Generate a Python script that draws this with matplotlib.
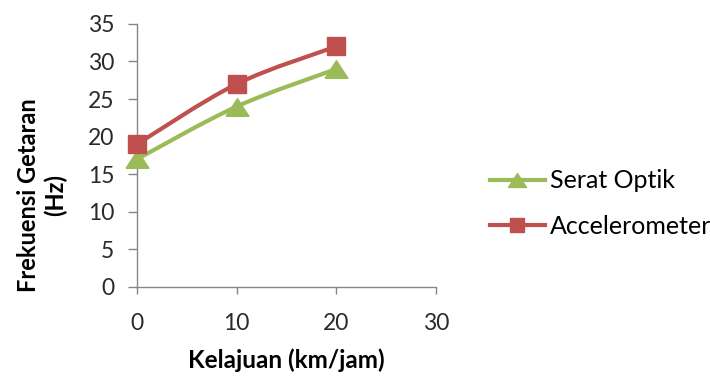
import numpy as np
import matplotlib
matplotlib.use("Agg")
import matplotlib.pyplot as plt
from matplotlib.path import Path
from matplotlib.patches import PathPatch
from matplotlib.lines import Line2D

plt.rcParams["font.family"] = ["Lato", "DejaVu Sans"]

# Data
kelajuan = [0, 10, 20]
serat_optik = [17, 24, 29]
accelerometer = [19, 27, 32]

x_ticks = [0, 10, 20, 30]
y_ticks = [0, 5, 10, 15, 20, 25, 30, 35]

green = "#9BBB59"
red = "#C0504D"
axis_grey = "#868686"

# wide, flat triangle marker
tri = [(-1.3, -1.0), (1.3, -1.0), (0.0, 1.0), (-1.3, -1.0)]


def smooth_path(xs, ys):
    # Catmull-Rom style bezier through the points (like a smoothed spreadsheet line)
    pts = np.column_stack([xs, ys]).astype(float)
    n = len(pts)
    verts = [pts[0]]
    codes = [Path.MOVETO]
    for i in range(n - 1):
        p0 = pts[max(i - 1, 0)]
        p1 = pts[i]
        p2 = pts[i + 1]
        p3 = pts[min(i + 2, n - 1)]
        c1 = p1 + (p2 - p0) / 6.0
        c2 = p2 - (p3 - p1) / 6.0
        verts += [c1, c2, p2]
        codes += [Path.CURVE4] * 3
    return Path(verts, codes)


fig = plt.figure(figsize=(7.1, 3.79), dpi=100)
ax = fig.add_axes([0.193, 0.243, 0.421, 0.694])

series = [(serat_optik, green, tri, 16.5), (accelerometer, red, "s", 13.5)]
for ys, color, marker, ms in series:
    ax.add_patch(PathPatch(smooth_path(kelajuan, ys), fill=False,
                           edgecolor=color, linewidth=3, zorder=2))
    ax.plot(kelajuan, ys, linestyle="none", marker=marker, markersize=ms,
            color=color, zorder=3, clip_on=False)

ax.set_xlim(0, 30)
ax.set_ylim(0, 35)
ax.set_xticks(x_ticks)
ax.set_yticks(y_ticks)

for side in ["top", "right"]:
    ax.spines[side].set_visible(False)
for side in ["left", "bottom"]:
    ax.spines[side].set_color(axis_grey)
    ax.spines[side].set_linewidth(1)

ax.tick_params(axis="both", colors=axis_grey, labelcolor="#2a2a2a",
               labelsize=16.5, width=1, direction="out")
ax.tick_params(axis="x", length=5, pad=14)
ax.tick_params(axis="y", length=6.5, pad=10)

ax.set_xlabel("Kelajuan (km/jam)", fontsize=17.5, fontweight="bold")
ax.xaxis.label.set_va("center")
ax.xaxis.set_label_coords(0.5, -0.28)

ax.set_ylabel("Frekuensi Getaran\n(Hz)", fontsize=17, fontweight="bold",
              linespacing=1.15)
ax.yaxis.label.set_va("center")
ax.yaxis.set_label_coords(-0.318, 0.35)

handles = [
    Line2D([], [], color=green, linewidth=3, marker=tri, markersize=13),
    Line2D([], [], color=red, linewidth=3, marker="s", markersize=9.5),
]
fig.legend(handles, ["Serat Optik", "Accelerometer"], loc="center left",
           bbox_to_anchor=(0.69, 0.463), frameon=False, fontsize=18,
           handlelength=2.2, handletextpad=0.2, labelspacing=0.9,
           numpoints=1, borderaxespad=0, borderpad=0)

fig.savefig("out.png", dpi=100)
